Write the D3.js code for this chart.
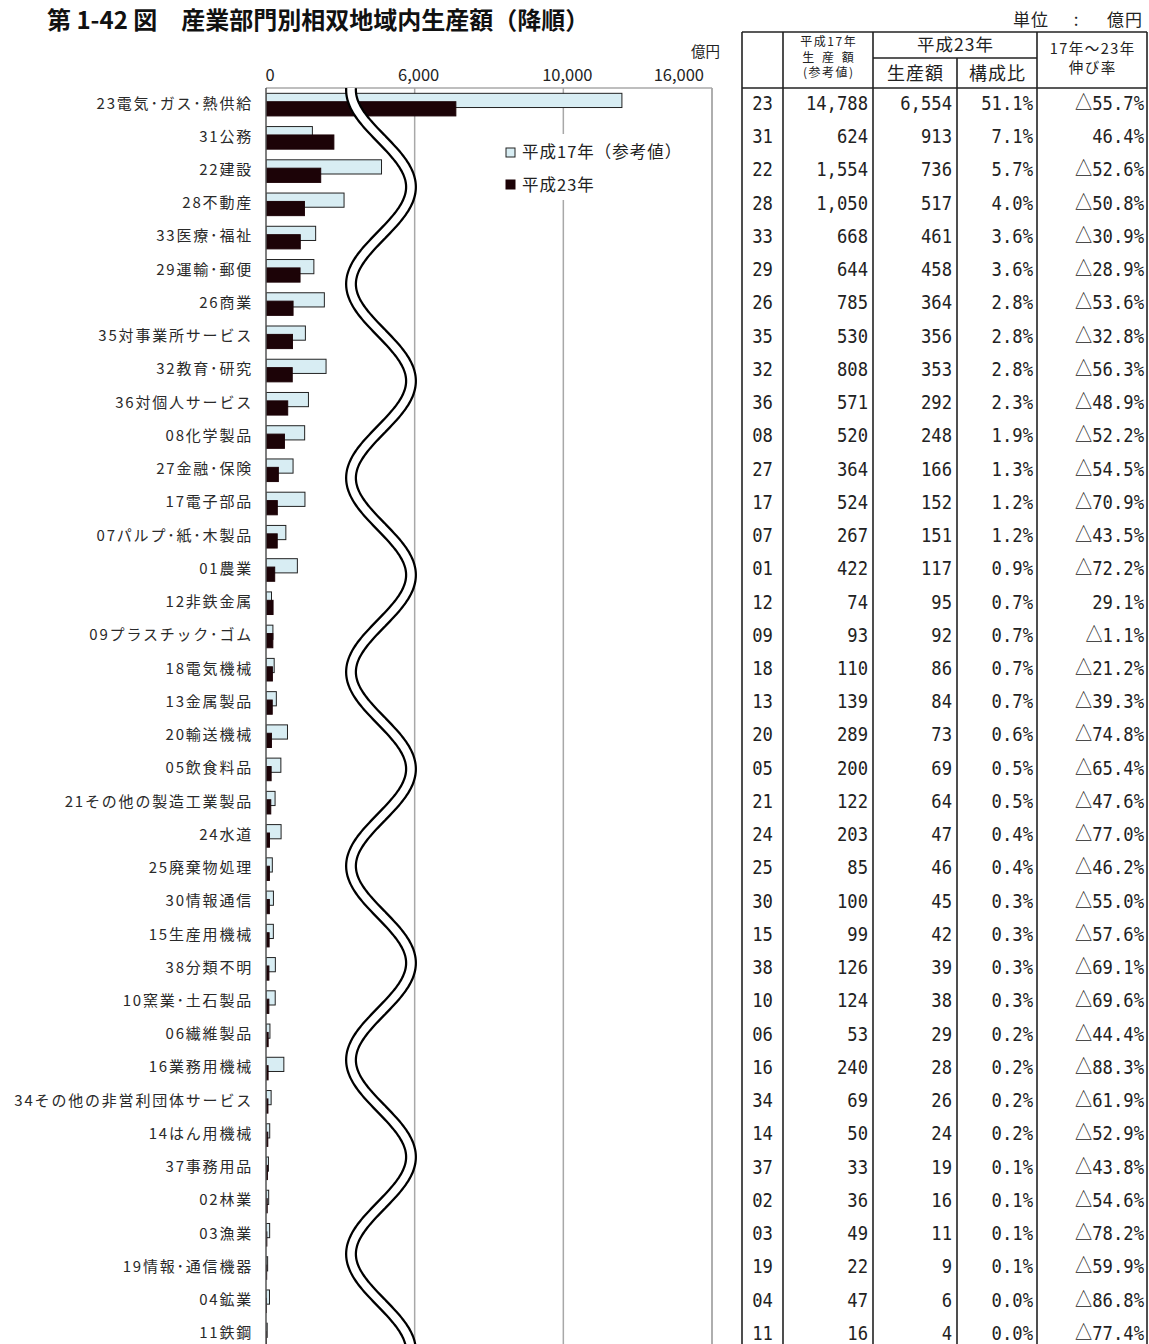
<!DOCTYPE html>
<html><head><meta charset="utf-8">
<script src="https://cdn.jsdelivr.net/npm/d3@7"></script>
<style>body{margin:0;background:#fff;} svg{display:block;}</style>
</head><body>
<svg id="c" width="1149" height="1344"></svg>
<script>
// ---------- data ----------
const codes = ["23","31","22","28","33","29","26","35","32","36","08","27","17","07","01","12","09","18","13","20","05","21","24","25","30","15","38","10","06","16","34","14","37","02","03","19","04","11"];
const names = ["電気･ガス･熱供給","公務","建設","不動産","医療･福祉","運輸･郵便","商業","対事業所サービス","教育･研究","対個人サービス","化学製品","金融･保険","電子部品","パルプ･紙･木製品","農業","非鉄金属","プラスチック･ゴム","電気機械","金属製品","輸送機械","飲食料品","その他の製造工業製品","水道","廃棄物処理","情報通信","生産用機械","分類不明","窯業･土石製品","繊維製品","業務用機械","その他の非営利団体サービス","はん用機械","事務用品","林業","漁業","情報･通信機器","鉱業","鉄鋼"];
const h17 = [14788,624,1554,1050,668,644,785,530,808,571,520,364,524,267,422,74,93,110,139,289,200,122,203,85,100,99,126,124,53,240,69,50,33,36,49,22,47,16];
const h23 = [6554,913,736,517,461,458,364,356,353,292,248,166,152,151,117,95,92,86,84,73,69,64,47,46,45,42,39,38,29,28,26,24,19,16,11,9,6,4];
const share23 = [51.1,7.1,5.7,4.0,3.6,3.6,2.8,2.8,2.8,2.3,1.9,1.3,1.2,1.2,0.9,0.7,0.7,0.7,0.7,0.6,0.5,0.5,0.4,0.4,0.3,0.3,0.3,0.3,0.2,0.2,0.2,0.2,0.1,0.1,0.1,0.1,0.0,0.0];
const growth = [-55.7,46.4,-52.6,-50.8,-30.9,-28.9,-53.6,-32.8,-56.3,-48.9,-52.2,-54.5,-70.9,-43.5,-72.2,29.1,-1.1,-21.2,-39.3,-74.8,-65.4,-47.6,-77.0,-46.2,-55.0,-57.6,-69.1,-69.6,-44.4,-88.3,-61.9,-52.9,-43.8,-54.6,-78.2,-59.9,-86.8,-77.4];
const axisTickValues = [0, 2000, 4000, 6000];          // positions on the broken axis
const axisTickLabels = ["0", "6,000", "10,000", "16,000"];
const brokenCode = "23";                               // bar drawn across the axis break
const breakCut17 = 10000, breakCut23 = 4000;           // amount removed by the break
const seriesNames = ["平成17年（参考値）", "平成23年"];
const titleText = "第 1-42 図　産業部門別相双地域内生産額（降順）";

// ---------- layout ----------
const svg = d3.select("#c");
const JP = "'Noto Sans CJK JP','Noto Sans',sans-serif";
const MONO = "'DejaVu Sans Mono','Liberation Mono',monospace";
const plot = {left: 266, right: 712, top: 88};
const rowH = 33.24;
const n = codes.length;
const x = d3.scaleLinear().domain([0, 6000]).range([plot.left, plot.right]);
const y = d3.scaleBand().domain(d3.range(n)).range([plot.top, plot.top + n * rowH]).paddingInner(0).paddingOuter(0);
const ctr = i => y(i) + rowH / 2;
const bottom = plot.top + n * rowH;
const colors = {light: "#d8edf3", dark: "#1c0307", edge: "#222"};

// title
svg.append("text").attr("x", 47).attr("y", 29).attr("font-family", JP).attr("font-weight", "bold")
  .attr("font-size", 24).attr("fill", "#111").text(titleText);
const unit = svg.append("g").attr("font-family", JP).attr("font-size", 17).attr("fill", "#222");
unit.append("text").attr("x", 1013).attr("y", 26).attr("letter-spacing", 1).text("単位");
unit.append("text").attr("x", 1076).attr("y", 26).attr("text-anchor", "middle").text(":");
unit.append("text").attr("x", 1143).attr("y", 26).attr("text-anchor", "end").attr("letter-spacing", 1).text("億円");

// clip
svg.append("clipPath").attr("id", "pc").append("rect")
  .attr("x", plot.left).attr("y", plot.top).attr("width", plot.right - plot.left).attr("height", bottom - plot.top);

// grid & frame
svg.append("g").selectAll("line").data(axisTickValues.slice(1)).join("line")
  .attr("x1", d => x(d)).attr("x2", d => x(d)).attr("y1", plot.top).attr("y2", bottom)
  .attr("stroke", "#a8a8a8").attr("stroke-width", 1.5);
svg.append("line").attr("x1", plot.left).attr("x2", plot.right).attr("y1", plot.top).attr("y2", plot.top)
  .attr("stroke", "#a8a8a8").attr("stroke-width", 1.5);

// axis labels (top)
svg.append("g").selectAll("text").data(axisTickValues).join("text")
  .attr("x", (d, i) => i === axisTickValues.length - 1 ? x(d) - 8 : x(d) + 4)
  .attr("y", 81).attr("text-anchor", (d, i) => i === axisTickValues.length - 1 ? "end" : "middle")
  .attr("font-family", JP).attr("font-size", 16.5).attr("fill", "#222")
  .text((d, i) => axisTickLabels[i]);
svg.append("text").attr("x", 720).attr("y", 57).attr("text-anchor", "end").attr("font-family", JP)
  .attr("font-size", 14.5).attr("fill", "#222").text("億円");

// category labels
svg.append("g").selectAll("text").data(d3.range(n)).join("text")
  .attr("x", 253).attr("y", i => ctr(i) - 1.5).attr("dy", "0.36em").attr("text-anchor", "end")
  .attr("font-family", JP).attr("font-size", 15).attr("letter-spacing", 1.8).attr("fill", "#2a2a2a")
  .text(i => codes[i] + names[i]);

// bars
const bars = svg.append("g").attr("clip-path", "url(#pc)");
const shown17 = i => codes[i] === brokenCode ? h17[i] - breakCut17 : h17[i];
const shown23 = i => codes[i] === brokenCode ? h23[i] - breakCut23 : h23[i];
bars.selectAll("rect.a").data(d3.range(n)).join("rect").attr("class", "a")
  .attr("x", x(0)).attr("y", i => ctr(i) - 11.3).attr("height", 14.2)
  .attr("width", i => x(shown17(i)) - x(0))
  .attr("fill", colors.light).attr("stroke", colors.edge).attr("stroke-width", 1);
bars.selectAll("rect.b").data(d3.range(n)).join("rect").attr("class", "b")
  .attr("x", x(0)).attr("y", i => ctr(i) - 2.9).attr("height", 14.2)
  .attr("width", i => x(shown23(i)) - x(0))
  .attr("fill", colors.dark).attr("stroke", colors.dark).attr("stroke-width", 1);

// left axis & right frame
svg.append("line").attr("x1", plot.left).attr("x2", plot.left).attr("y1", plot.top).attr("y2", bottom)
  .attr("stroke", "#555").attr("stroke-width", 1.5);
svg.append("line").attr("x1", plot.right).attr("x2", plot.right).attr("y1", plot.top).attr("y2", bottom)
  .attr("stroke", "#a8a8a8").attr("stroke-width", 1.5);

// break wave (decoration)
const wavePts = d3.range(plot.top, bottom + 2, 2).map(yy => [381 - 30 * Math.cos(2 * Math.PI * (yy - 90) / 194), yy]);
const wl = d3.line().curve(d3.curveBasis);
const wg = svg.append("g").attr("clip-path", "url(#pc)");
wg.append("path").attr("d", wl(wavePts)).attr("fill", "none").attr("stroke", "#000").attr("stroke-width", 12);
wg.append("path").attr("d", wl(wavePts)).attr("fill", "none").attr("stroke", "#fff").attr("stroke-width", 7.5);

// legend
const lg = svg.append("g");
lg.append("rect").attr("x", 497).attr("y", 134).attr("width", 195).attr("height", 66).attr("fill", "#fff");
lg.append("rect").attr("x", 506).attr("y", 148).attr("width", 9).attr("height", 9)
  .attr("fill", colors.light).attr("stroke", colors.edge).attr("stroke-width", 1);
lg.append("rect").attr("x", 506).attr("y", 180).attr("width", 9).attr("height", 9)
  .attr("fill", colors.dark).attr("stroke", colors.dark).attr("stroke-width", 1);
lg.selectAll("text").data(seriesNames).join("text")
  .attr("x", 522).attr("y", (d, i) => i === 0 ? 158 : 191).attr("letter-spacing", 1)
  .attr("font-family", JP).attr("font-size", 16.5).attr("fill", "#222").text(d => d);

// ---------- table ----------
const tb = svg.append("g");
const tTop = 32, tMid = 58, tHead = 88;
const vlines = [[742, tTop], [783, tTop], [873, tTop], [957, tMid], [1037, tTop], [1147, tTop]];
tb.selectAll("line.v").data(vlines).join("line").attr("class", "v")
  .attr("x1", d => d[0]).attr("x2", d => d[0]).attr("y1", d => d[1]).attr("y2", bottom)
  .attr("stroke", "#222").attr("stroke-width", 1.6);
tb.append("line").attr("x1", 742).attr("x2", 1147).attr("y1", tTop).attr("y2", tTop).attr("stroke", "#222").attr("stroke-width", 1.6);
tb.append("line").attr("x1", 742).attr("x2", 1147).attr("y1", tHead).attr("y2", tHead).attr("stroke", "#222").attr("stroke-width", 1.6);
tb.append("line").attr("x1", 873).attr("x2", 1037).attr("y1", tMid).attr("y2", tMid).attr("stroke", "#222").attr("stroke-width", 1.4);

const head = [
  {t: "平成17年", x: 828, y: 46, s: 12, ls: 1.5},
  {t: "生 産 額", x: 828, y: 61.5, s: 12, ls: 2.5},
  {t: "(参考値)", x: 828, y: 77, s: 12, ls: 1.5},
  {t: "平成23年", x: 955, y: 51, s: 17.5, ls: 1},
  {t: "生産額", x: 915, y: 80, s: 18, ls: 1},
  {t: "構成比", x: 997, y: 80, s: 18, ls: 1},
  {t: "17年～23年", x: 1092, y: 54, s: 14.5, ls: 1.5},
  {t: "伸び率", x: 1092, y: 73, s: 14.5, ls: 1.5}
];
tb.selectAll("text.h").data(head).join("text").attr("class", "h")
  .attr("x", d => d.x + d.ls / 2).attr("y", d => d.y).attr("text-anchor", "middle")
  .attr("letter-spacing", d => d.ls)
  .attr("font-family", JP).attr("font-size", d => d.s).attr("fill", "#222").text(d => d.t);

const fmtInt = d3.format(",");
const cellText = (g, xx, yy, anchor, str, tri) => {
  const t = g.append("text").attr("transform", `translate(${xx},${yy}) scale(0.86,1)`)
    .attr("text-anchor", anchor).attr("font-family", MONO).attr("font-size", 20).attr("fill", "#222");
  if (tri) t.append("tspan").attr("font-family", JP).attr("font-size", 20).text("△");
  t.append("tspan").text(str);
};
d3.range(n).forEach(i => {
  const yy = ctr(i) - 1.5 + 6.8;
  const g = tb.append("g");
  cellText(g, 762.5, yy, "middle", codes[i], false);
  cellText(g, 868, yy, "end", fmtInt(h17[i]), false);
  cellText(g, 952, yy, "end", fmtInt(h23[i]), false);
  cellText(g, 1033, yy, "end", share23[i].toFixed(1) + "%", false);
  cellText(g, 1144, yy, "end", Math.abs(growth[i]).toFixed(1) + "%", growth[i] < 0);
});
</script>
</body></html>
